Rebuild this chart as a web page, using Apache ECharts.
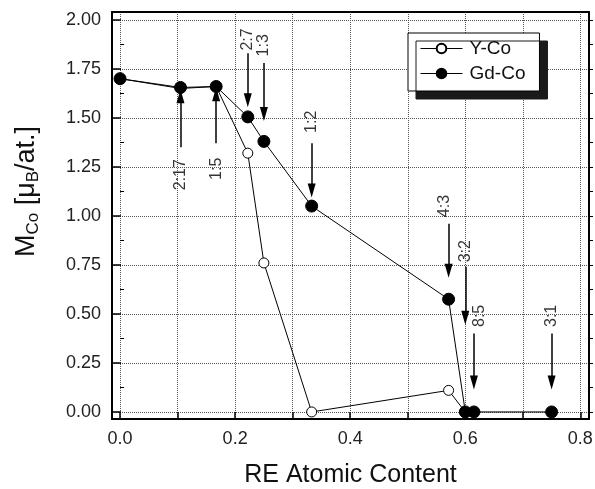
<!DOCTYPE html>
<html>
<head>
<meta charset="utf-8">
<script src="https://cdn.jsdelivr.net/npm/echarts@6/dist/echarts.min.js"></script>
<style>
html, body { margin: 0; padding: 0; background: #fff; }
#container { width: 595px; height: 489px; }
</style>
</head>
<body>
<div id="container"></div>
<script>
// RE atomic content (x) and M_Co (y) for both series
var yCoX = [0, 0.105, 0.167, 0.222, 0.25, 0.333, 0.571, 0.6];
var yCoY = [1.70, 1.65, 1.66, 1.32, 0.76, 0.0, 0.11, 0.0];
var gdCoX = [0, 0.105, 0.167, 0.222, 0.25, 0.333, 0.571, 0.6, 0.615, 0.75];
var gdCoY = [1.70, 1.655, 1.66, 1.505, 1.38, 1.05, 0.575, 0.0, 0.0, 0.0];

// stoichiometry annotations: label, x, label y, arrow tail y, arrow head y
var noteText = ['2:17', '1:5', '2:7', '1:3', '1:2', '4:3', '3:2', '8:5', '3:1'];
var noteX = [0.105, 0.167, 0.222, 0.25, 0.333, 0.571, 0.6, 0.615, 0.75];
var noteLabelY = [1.21, 1.24, 1.90, 1.87, 1.48, 1.05, 0.82, 0.49, 0.49];
var noteTailY = [1.35, 1.37, 1.83, 1.78, 1.37, 0.96, 0.74, 0.40, 0.40];
var noteHeadY = [1.61, 1.62, 1.59, 1.52, 1.13, 0.72, 0.48, 0.15, 0.15];

var xTicks = [0, 0.1, 0.2, 0.3, 0.4, 0.5, 0.6, 0.7, 0.8];
var xLabels = [0, 0.2, 0.4, 0.6, 0.8];
var yTicks = [0, 0.25, 0.5, 0.75, 1.0, 1.25, 1.5, 1.75, 2.0];
var yMinor = [0.125, 0.375, 0.625, 0.875, 1.125, 1.375, 1.625, 1.875];

var dom = document.getElementById('container');
var myChart = echarts.init(dom);

function pairs(xs, ys) {
    return xs.map(function (x, i) { return [x, ys[i]]; });
}

// nudge a couple of labels sideways like in the original figure
// (label is rotated 90deg, so local y is screen x)
var labelNudge = { '4:3': -4, '8:5': 6 };

var labelData = noteX.map(function (x, i) {
    var item = { value: [x, noteLabelY[i]], name: noteText[i] };
    if (labelNudge[noteText[i]]) {
        item.label = { offset: [0, labelNudge[noteText[i]]] };
    }
    return item;
});
var arrowData = noteX.map(function (x, i) {
    return [{ coord: [x, noteTailY[i]] }, { coord: [x, noteHeadY[i]] }];
});

var X_MIN = -0.014, X_MAX = 0.815, Y_MIN = -0.036, Y_MAX = 2.04;
var fontFam = 'Liberation Sans, Arial, sans-serif';

var option = {
    animation: false,
    grid: { left: 112, top: 12, right: 6, bottom: 70, outerBoundsMode: 'none', containLabel: false },
    legend: {
        data: ['Y-Co', 'Gd-Co'],
        orient: 'vertical',
        left: 408,
        top: 33,
        itemWidth: 42,
        itemHeight: 12,
        itemGap: 6,
        padding: [6, 14, 8, 12],
        backgroundColor: '#fff',
        borderColor: '#000',
        borderWidth: 1,
        shadowColor: '#1a1a1a',
        shadowBlur: 0,
        shadowOffsetX: 8,
        shadowOffsetY: 8,
        lineStyle: { width: 1 },
        textStyle: { fontFamily: fontFam, fontSize: 19, color: '#111', padding: [0, 0, 0, 2] }
    },
    xAxis: [{
        type: 'value',
        min: X_MIN,
        max: X_MAX,
        name: 'RE Atomic Content',
        nameLocation: 'middle',
        nameGap: 44,
        nameTextStyle: { fontFamily: fontFam, fontSize: 25, color: '#111' },
        axisLine: { show: true, onZero: false, lineStyle: { color: '#000', width: 2 } },
        axisTick: { show: true, inside: true, length: 7, customValues: xTicks, lineStyle: { color: '#000', width: 1.5 } },
        axisLabel: {
            customValues: xLabels,
            margin: 11,
            fontFamily: fontFam, fontSize: 18, color: '#222',
            formatter: function (v) { return v.toFixed(1); }
        },
        splitLine: { show: true, lineStyle: { type: 'dotted', color: '#555', width: 1 } }
    }, {
        type: 'value',
        position: 'top',
        min: X_MIN,
        max: X_MAX,
        axisLine: { show: true, onZero: false, lineStyle: { color: '#000', width: 2 } },
        axisTick: { show: false },
        axisLabel: { show: false },
        splitLine: { show: false }
    }],
    yAxis: [{
        type: 'value',
        min: Y_MIN,
        max: Y_MAX,
        name: '{m|M}{s|Co}{m| [μ}{s|B}{m|/at.]}',
        nameLocation: 'middle',
        nameRotate: 90,
        nameGap: 70,
        nameTextStyle: {
            padding: [0, 0, 0, 48],
            rich: {
                m: { fontFamily: fontFam, fontSize: 27, color: '#111', lineHeight: 30 },
                s: { fontFamily: fontFam, fontSize: 17, color: '#111', lineHeight: 30, padding: [12, 0, 0, 0] }
            }
        },
        axisLine: { show: true, onZero: false, lineStyle: { color: '#000', width: 2 } },
        axisTick: { show: true, inside: true, length: 9, customValues: yTicks, lineStyle: { color: '#000', width: 1.5 } },
        axisLabel: {
            customValues: yTicks,
            margin: 11,
            fontFamily: fontFam, fontSize: 18, color: '#222',
            formatter: function (v) { return v.toFixed(2); }
        },
        splitLine: { show: true, lineStyle: { type: 'dotted', color: '#555', width: 1 } }
    }, {
        type: 'value',
        position: 'left',
        min: Y_MIN,
        max: Y_MAX,
        axisLine: { show: false },
        axisTick: { show: true, inside: true, length: 4, customValues: yMinor, lineStyle: { color: '#000', width: 1 } },
        axisLabel: { show: false },
        splitLine: { show: false }
    }, {
        type: 'value',
        position: 'right',
        min: Y_MIN,
        max: Y_MAX,
        axisLine: { show: true, onZero: false, lineStyle: { color: '#000', width: 2 } },
        axisTick: { show: true, inside: false, length: 4, customValues: yMinor.concat(yTicks), lineStyle: { color: '#000', width: 1 } },
        axisLabel: { show: false },
        splitLine: { show: false }
    }],
    series: [{
        name: 'Y-Co',
        type: 'line',
        data: pairs(yCoX, yCoY),
        symbol: 'circle',
        symbolSize: 10,
        showAllSymbol: true,
        lineStyle: { color: '#000', width: 1 },
        itemStyle: { color: '#fff', borderColor: '#000', borderWidth: 1 },
        z: 3
    }, {
        name: 'Gd-Co',
        type: 'line',
        data: pairs(gdCoX, gdCoY),
        symbol: 'circle',
        symbolSize: 12,
        showAllSymbol: true,
        lineStyle: { color: '#000', width: 1 },
        itemStyle: { color: '#000', borderColor: '#000', borderWidth: 1 },
        z: 4
    }, {
        name: 'notes',
        type: 'scatter',
        data: labelData,
        symbolSize: 1,
        itemStyle: { color: 'rgba(0,0,0,0)' },
        label: {
            show: true,
            position: 'inside',
            rotate: 90,
            formatter: function (p) { return p.name; },
            fontFamily: fontFam, fontSize: 16, color: '#000'
        },
        markLine: {
            silent: true,
            symbol: ['none', 'triangle'],
            symbolSize: [8, 14],
            label: { show: false },
            lineStyle: { color: '#000', width: 1.5, type: 'solid' },
            data: arrowData
        },
        z: 5
    }]
};

if (option && typeof option === "object") {
    myChart.setOption(option, true);
}
</script>
</body>
</html>
